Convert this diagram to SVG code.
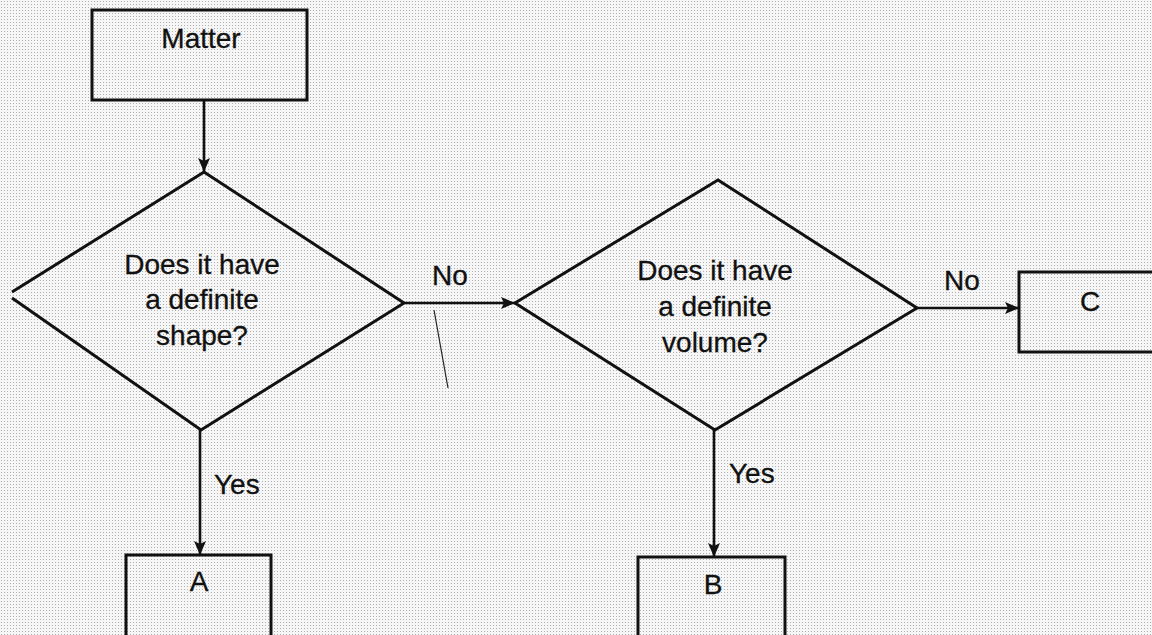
<svg xmlns="http://www.w3.org/2000/svg" width="1152" height="635" viewBox="0 0 1152 635">
<defs>
<pattern id="dots" width="3" height="3" patternUnits="userSpaceOnUse">
<rect width="3" height="3" fill="#f6f6f6"/>
<rect x="1" y="1" width="1" height="1" fill="#b0b0b0"/>
</pattern>
<marker id="arr" viewBox="0 0 14 12" refX="14" refY="6" markerWidth="14" markerHeight="12" markerUnits="userSpaceOnUse" orient="auto">
<path d="M0,0 L14,6 L0,12 L3,6 Z" fill="#111"/>
</marker>
</defs>
<style>
.shape{fill:none;stroke:#111;stroke-width:3;stroke-linejoin:miter}
.edge{fill:none;stroke:#111;stroke-width:2.6}
.thin{fill:none;stroke:#222;stroke-width:1.2}
text{font-family:"Liberation Sans",Arial,sans-serif;font-size:28px;fill:#111;text-anchor:middle;stroke:#111;stroke-width:0.3}
.lbl{text-anchor:start}
</style>
<rect width="1152" height="635" fill="url(#dots)"/>
<g id="connectors">
<line class="edge" x1="204" y1="100" x2="204" y2="172" marker-end="url(#arr)"/>
<line class="edge" x1="404" y1="303" x2="515" y2="303" marker-end="url(#arr)"/>
<line class="edge" x1="916" y1="308" x2="1019" y2="308" marker-end="url(#arr)"/>
<line class="edge" x1="200" y1="430" x2="200" y2="555" marker-end="url(#arr)"/>
<line class="edge" x1="714" y1="430" x2="714" y2="557" marker-end="url(#arr)"/>
<text class="lbl" x="432" y="285">No</text>
<text class="lbl" x="944" y="290">No</text>
<text class="lbl" x="214" y="494">Yes</text>
<text class="lbl" x="729" y="483">Yes</text>
</g>
<line class="thin" x1="434" y1="310" x2="448" y2="388"/>
<g id="matter">
<rect class="shape" x="92" y="10" width="215" height="90"/>
<text x="201" y="48">Matter</text>
</g>
<g id="decision-shape">
<polyline class="shape" points="12,298 201,430 404,303 204,172 12,292"/>
<text x="202" y="274">Does it have</text>
<text x="202" y="309">a definite</text>
<text x="202" y="345">shape?</text>
</g>
<g id="decision-volume">
<polygon class="shape" points="718,180 917,308 715,430 515,303"/>
<text x="715" y="280">Does it have</text>
<text x="715" y="316">a definite</text>
<text x="715" y="352">volume?</text>
</g>
<g id="box-a">
<rect class="shape" x="126" y="555" width="145" height="90"/>
<text x="199" y="591">A</text>
</g>
<g id="box-b">
<rect class="shape" x="638" y="557" width="147" height="90"/>
<text x="713" y="594">B</text>
</g>
<g id="box-c">
<rect class="shape" x="1019" y="272" width="150" height="80"/>
<text x="1090" y="311">C</text>
</g>
</svg>
